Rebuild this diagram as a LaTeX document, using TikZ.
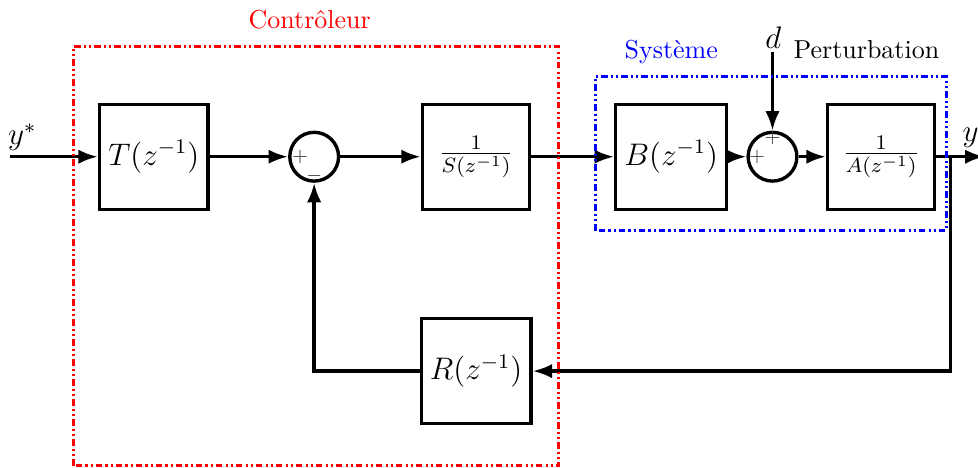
\documentclass[tikz,border=0pt]{standalone}
\usepackage{amsmath}
\usetikzlibrary{arrows.meta,calc,positioning}
\definecolor{ctrlred}{RGB}{255,0,0}
\definecolor{sysblue}{RGB}{0,0,255}

\begin{document}
\begin{tikzpicture}[>={Latex[length=7.5pt,width=5.5pt]},
 fil/.style={line width=1.3pt},
 bloc/.style={draw,fil,minimum width=1.45cm,minimum height=1.42cm,font=\large},
 somme/.style={draw,fil,circle,minimum size=0.66cm,inner sep=0pt},
 signe/.style={font=\scriptsize,inner sep=0pt,black!75},
 cadre/.style={line width=1.2pt,dash pattern=on 2.5pt off 1.2pt on 0.8pt off 1.2pt on 0.8pt off 1.2pt}]
\useasboundingbox (0,0) rectangle (13.23,6.33);
% Boucle R-S-T avec systeme B/A et perturbation d.
\node[bloc] (T) at (2.08,4.21) {$T(z^{-1})$};
\node[somme] (S1) at (4.25,4.21) {};
\node[bloc] (invS) at (6.44,4.21) {$\frac{1}{S(z^{-1})}$};
\node[bloc] (B) at (9.08,4.21) {$B(z^{-1})$};
\node[somme] (S2) at (10.45,4.21) {};
\node[bloc] (invA) at (11.92,4.21) {$\frac{1}{A(z^{-1})}$};
\node[bloc] (R) at (6.44,1.31) {$R(z^{-1})$};
\coordinate (entree) at (0.135,4.21);
\coordinate (branche) at (12.86,4.21);
\coordinate (sortie) at (13.32,4.21);
\coordinate (pert) at (10.45,5.63);
\node[signe] (p1) at ($(S1)+(-0.19,0)$) {$+$};
\node[signe] (m1) at ($(S1)+(0,-0.26)$) {$-$};
\node[signe] (p2) at ($(S2)+(-0.21,0)$) {$+$};
\node[signe] (p3) at ($(S2)+(0,0.25)$) {$+$};
\draw[->,fil] (entree) -- (T);
\draw[->,fil] (T) -- (S1);
\draw[->,fil] (S1) -- (invS);
\draw[->,fil] (invS) -- (B);
\draw[->,fil] (B) -- (S2);
\draw[->,fil] (S2) -- (invA);
\draw[->,fil] (invA) -- (sortie);
\draw[->,fil] (branche) |- (R);
\draw[->,fil] (R) -| (S1);
\draw[->,fil] (pert) -- (S2);
\node[font=\large] (ystar) at (0.30,4.47) {$y^*$};
\node[font=\large] (ysortie) at (13.13,4.47) {$y$};
\node[font=\large] (dlab) at (10.46,5.82) {$d$};
\node (perturb) at (11.72,5.66) {Perturbation};
\draw[cadre,ctrlred] (0.99,0.03) rectangle (7.56,5.70);
\node[ctrlred] (ctrl) at (4.19,6.06) {Contrôleur};
\draw[cadre,sysblue] (8.06,3.21) rectangle (12.80,5.30);
\node[sysblue] (sys) at (9.08,5.63) {Système};
\end{tikzpicture}
\end{document}
